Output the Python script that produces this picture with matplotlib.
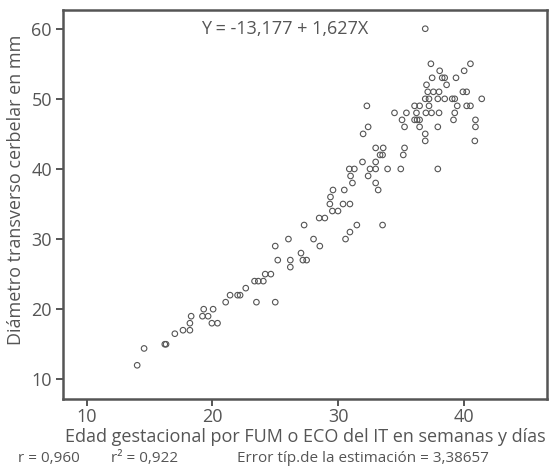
import matplotlib.pyplot as plt
import numpy as np

plt.rcParams['font.family'] = ['Open Sans', 'DejaVu Sans']

# edad gestacional (semanas) y diametro transverso cerebelar (mm)
edad = [14.0, 14.55, 16.2, 16.3, 17.0, 17.65, 18.2, 18.2, 18.3, 19.3, 19.2, 19.65,
        20.05, 19.95, 20.4, 21.05, 21.4, 22.0, 22.2, 22.65, 23.35, 23.65, 24.05,
        24.2, 24.65, 23.5, 25.0, 25.0, 25.2, 26.2, 26.2, 27.05, 27.2, 27.5, 26.05,
        28.05, 28.55, 27.3, 28.5, 28.95, 30.6, 30.95, 31.5, 33.55, 29.55, 30.0,
        29.35, 30.4, 30.95, 29.4, 29.6, 30.5, 33.2, 31.15, 33.0, 31.0, 32.4, 30.9,
        31.3, 32.55, 33.0, 33.95, 35.0, 37.95, 31.95, 33.0, 33.35, 33.55, 35.2,
        33.0, 33.6, 35.3, 32.0, 36.95, 36.95, 40.9, 32.4, 35.3, 36.5, 37.95, 40.95,
        35.1, 36.1, 36.3, 36.5, 39.2, 40.95, 34.5, 35.45, 36.25, 37.0, 37.45,
        38.05, 39.3, 32.3, 36.1, 36.5, 37.25, 39.5, 40.25, 40.55, 36.95, 37.25,
        37.95, 38.5, 39.1, 39.3, 41.45, 37.15, 37.6, 38.05, 39.95, 40.25, 37.05,
        38.65, 37.5, 38.3, 38.5, 39.4, 38.1, 40.05, 37.4, 40.55, 36.95]
diametro = [12, 14.4, 15, 15, 16.5, 17, 17, 18, 19, 20, 19, 19,
            20, 18, 18, 21, 22, 22, 22, 23, 24, 24, 24,
            25, 25, 21, 21, 29, 27, 27, 26, 28, 27, 27, 30,
            30, 29, 32, 33, 33, 30, 31, 32, 32, 34, 34,
            35, 35, 35, 36, 37, 37, 37, 38, 38, 39, 39, 40,
            40, 40, 40, 40, 40, 40, 41, 41, 42, 42, 42,
            43, 43, 43, 45, 45, 44, 44, 46, 46, 46, 46, 46,
            47, 47, 47, 47, 47, 47, 48, 48, 48, 48, 48,
            48, 48, 49, 49, 49, 49, 49, 49, 49, 50, 50,
            50, 50, 50, 50, 50, 51, 51, 51, 51, 51, 52,
            52, 53, 53, 53, 53, 54, 54, 55, 55, 60]

xticks = [10, 20, 30, 40]
yticks = [10, 20, 30, 40, 50, 60]

gris = '#555555'

fig = plt.figure(figsize=(5.49, 4.76), dpi=100)
ax = fig.add_axes([63 / 549, 77 / 476, 484 / 549, 389 / 476])

ax.scatter(edad, diametro, s=16, facecolors='none', edgecolors=gris, linewidths=0.8)

ax.set_xlim(8.09, 46.65)
ax.set_ylim(7.19, 62.67)
ax.set_xticks(xticks)
ax.set_yticks(yticks)
ax.tick_params(direction='out', length=5, width=1.4, color=gris, labelcolor=gris,
               labelsize=13, pad=3)
ax.tick_params(axis='x', pad=1.5)
for s in ax.spines.values():
    s.set_color(gris)
    s.set_linewidth(1.8)

ax.text(0.458, 0.951, 'Y = -13,177 + 1,627X', transform=ax.transAxes,
        ha='center', va='center', fontsize=13, color=gris)

fig.text(305 / 549, 1 - 437 / 476, 'Edad gestacional por FUM o ECO del IT en semanas y días',
         ha='center', va='center', fontsize=13, color=gris)
fig.text(16 / 549, 1 - 190 / 476, 'Diámetro transverso cerbelar en mm',
         ha='center', va='center', rotation=90, fontsize=13, color=gris)

yb = 1 - 458 / 476
fig.text(18 / 549, yb, 'r = 0,960', ha='left', va='center', fontsize=11, color=gris)
fig.text(111 / 549, yb, 'r² = 0,922', ha='left', va='center', fontsize=11, color=gris)
fig.text(237 / 549, yb, 'Error típ.de la estimación = 3,38657', ha='left', va='center',
         fontsize=11, color=gris)

plt.savefig('out.png', dpi=100)
